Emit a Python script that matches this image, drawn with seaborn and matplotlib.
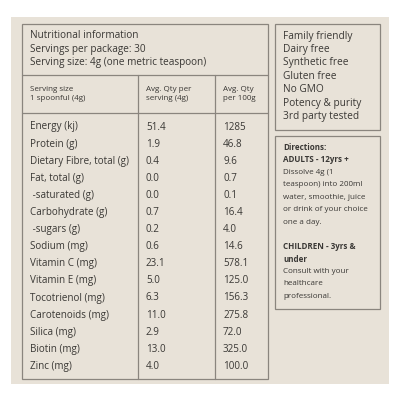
import matplotlib
matplotlib.use("Agg")
import matplotlib.pyplot as plt
import matplotlib.patches as patches
import seaborn as sns

nutrients = ["Energy (kj)", "Protein (g)", "Dietary Fibre, total (g)", "Fat, total (g)",
             " -saturated (g)", "Carbohydrate (g)", " -sugars (g)", "Sodium (mg)",
             "Vitamin C (mg)", "Vitamin E (mg)", "Tocotrienol (mg)", "Carotenoids (mg)",
             "Silica (mg)", "Biotin (mg)", "Zinc (mg)"]
per_serving = ["51.4", "1.9", "0.4", "0.0", "0.0", "0.7", "0.2", "0.6",
               "23.1", "5.0", "6.3", "11.0", "2.9", "13.0", "4.0"]
per_100g = ["1285", "46.8", "9.6", "0.7", "0.1", "16.4", "4.0", "14.6",
            "578.1", "125.0", "156.3", "275.8", "72.0", "325.0", "100.0"]
header_lines = ["Nutritional information", "Servings per package: 30",
                "Serving size: 4g (one metric teaspoon)"]
col_headers = ["Serving size\n1 spoonful (4g)", "Avg. Qty per\nserving (4g)", "Avg. Qty\nper 100g"]
claims = ["Family friendly", "Dairy free", "Synthetic free", "Gluten free",
          "No GMO", "Potency & purity", "3rd party tested"]

sns.set_style("white")
plt.rcParams['font.family'] = ['Open Sans', 'DejaVu Sans']

bg = "#e8e2d8"
line = "#8a857e"
txt = "#3a3835"

fig = plt.figure(figsize=(4, 4), dpi=100)
ax = fig.add_axes([0, 0, 1, 1])
ax.set_xlim(0, 400)
ax.set_ylim(400, 0)
ax.axis("off")

ax.add_patch(patches.Rectangle((11, 17), 378, 367, facecolor=bg, edgecolor="none"))
for x, y, w, h in [(22, 24, 246, 355), (275, 24, 105, 106), (275, 136, 105, 173)]:
    ax.add_patch(patches.Rectangle((x, y), w, h, facecolor="none", edgecolor=line, lw=0.9))
ax.plot([22, 268], [75, 75], color=line, lw=0.9)
ax.plot([22, 268], [113, 113], color=line, lw=0.9)
ax.plot([138, 138], [75, 379], color=line, lw=0.9)
ax.plot([215, 215], [75, 379], color=line, lw=0.9)

for i, s in enumerate(header_lines):
    ax.text(30, 36 + i * 13.5, s, fontsize=7.2, color=txt, va="center")
for x, s in zip([30, 146, 223], col_headers):
    ax.text(x, 94, s, fontsize=5.8, color=txt, va="center", linespacing=1.3)

for i, (n, a, b) in enumerate(zip(nutrients, per_serving, per_100g)):
    y = 127 + i * 17.1
    ax.text(30, y, n, fontsize=7.1, color=txt, va="center")
    ax.text(146, y, a, fontsize=7.1, color=txt, va="center")
    ax.text(223, y, b, fontsize=7.1, color=txt, va="center")

for i, s in enumerate(claims):
    ax.text(283, 36 + i * 13.5, s, fontsize=7.3, color=txt, va="center")

dirs = [("Directions:", True, 147), ("ADULTS - 12yrs +", True, 160),
        ("Dissolve 4g (1", False, 172.5), ("teaspoon) into 200ml", False, 185),
        ("water, smoothie, juice", False, 197.5), ("or drink of your choice", False, 209.5),
        ("one a day.", False, 222.5), ("CHILDREN - 3yrs &", True, 246.5),
        ("under", True, 259), ("Consult with your", False, 271.5),
        ("healthcare", False, 283.5), ("professional.", False, 296)]
for s, bold, y in dirs:
    ax.text(283, y, s, fontsize=5.8, color=txt, va="center",
            fontweight="bold" if bold else "normal")

fig.savefig("out.png", dpi=100, facecolor="white")
